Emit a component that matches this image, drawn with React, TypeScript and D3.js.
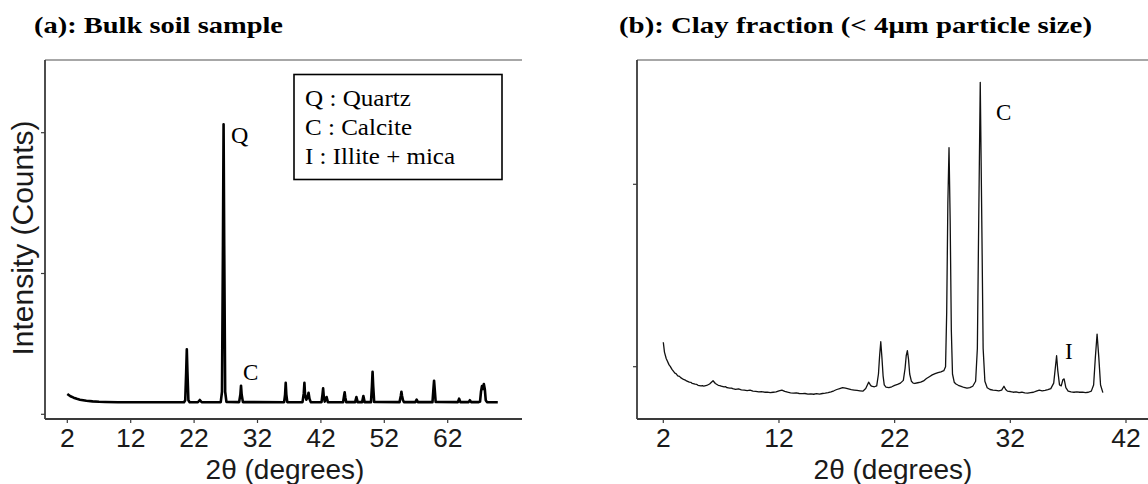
import React from "react";
import * as d3 from "d3";

// ---- Data -------------------------------------------------------------
// (a) bulk soil sample: [2θ, counts]
const bulkPattern: [number, number][] = [
  [2.0, 721], [2.5, 640], [3.0, 590], [3.5, 550], [4.0, 520], [5.0, 482],
  [6.0, 458], [7.0, 445], [8.0, 437], [10.0, 430], [12.0, 428], [14.0, 427],
  [16.0, 426], [18.0, 426], [20.4, 426], [20.6, 500], [20.75, 1500],
  [20.85, 2308], [20.95, 1500], [21.1, 500], [21.3, 428], [22.6, 428],
  [22.9, 508], [23.2, 428], [26.2, 430], [26.4, 800], [26.55, 6000],
  [26.65, 10298], [26.75, 6000], [26.9, 800], [27.1, 440], [29.1, 432],
  [29.3, 700], [29.4, 1016], [29.5, 700], [29.7, 432], [36.2, 430],
  [36.35, 700], [36.45, 1122], [36.55, 700], [36.7, 430], [39.1, 430],
  [39.3, 750], [39.4, 1122], [39.5, 700], [39.7, 520], [39.9, 600],
  [40.05, 767], [40.2, 550], [40.4, 432], [42.1, 430], [42.25, 700],
  [42.35, 923], [42.45, 650], [42.6, 450], [42.9, 614], [43.1, 432],
  [45.5, 430], [45.65, 650], [45.75, 781], [45.85, 600], [46.0, 432],
  [47.4, 432], [47.6, 614], [47.8, 432], [48.5, 432], [48.7, 650],
  [48.9, 432], [49.9, 432], [50.05, 1000], [50.15, 1513], [50.25, 1000],
  [50.4, 440], [54.4, 432], [54.6, 650], [54.7, 803], [54.8, 650],
  [54.95, 500], [55.1, 432], [56.9, 432], [57.1, 520], [57.3, 432],
  [59.6, 432], [59.75, 900], [59.85, 1193], [59.95, 900], [60.1, 440],
  [63.6, 432], [63.8, 554], [64.0, 432], [65.3, 432], [65.5, 500],
  [65.7, 432], [66.9, 432], [67.1, 450], [67.25, 800], [67.4, 1000],
  [67.55, 900], [67.7, 1076], [67.85, 900], [68.0, 500], [68.2, 432],
  [69.9, 430],
];

// (b) clay fraction (< 4 µm): [2θ, counts]
const clayPattern: [number, number][] = [
  [2.0, 1134], [2.1, 1080], [2.25, 1045], [2.5, 1010], [2.6, 1002], [2.75, 985],
  [3.0, 965], [3.1, 962], [3.25, 950], [3.4, 947], [3.5, 940], [3.75, 930],
  [3.9, 927], [4.0, 922], [4.25, 915], [4.4, 914], [4.5, 908], [4.75, 904],
  [4.9, 903], [5.0, 898], [5.25, 895], [5.4, 896], [5.5, 893], [5.75, 897],
  [6.0, 905], [6.3, 923], [6.5, 908], [6.75, 898], [6.9, 896], [7.0, 893],
  [7.25, 889], [7.4, 890], [7.5, 885], [7.75, 882], [7.9, 883], [8.0, 880],
  [8.25, 876], [8.5, 878], [8.75, 873], [9.0, 871], [9.25, 869], [9.5, 871],
  [9.75, 866], [10.0, 865], [10.25, 862], [10.5, 863], [10.75, 860],
  [11.0, 861], [11.25, 858], [11.5, 860], [11.75, 862], [12.0, 868],
  [12.25, 872], [12.5, 865], [12.75, 860], [13.0, 857], [13.25, 855],
  [13.5, 856], [13.75, 853], [14.0, 852], [14.25, 853], [14.5, 850],
  [14.75, 851], [15.0, 849], [15.25, 852], [15.5, 850], [15.75, 853],
  [16.0, 855], [16.25, 858], [16.5, 862], [16.75, 868], [17.0, 875],
  [17.25, 880], [17.5, 885], [17.75, 882], [18.0, 878], [18.25, 874],
  [18.5, 872], [18.75, 870], [19.0, 868], [19.25, 866], [19.5, 880],
  [19.75, 915], [19.9, 900], [20.0, 893], [20.25, 890], [20.45, 895],
  [20.6, 960], [20.7, 1060], [20.8, 1137], [20.9, 1050], [21.0, 950],
  [21.1, 900], [21.25, 888], [21.5, 885], [21.75, 890], [22.0, 898],
  [22.25, 903], [22.5, 910], [22.75, 925], [22.9, 990], [23.0, 1060],
  [23.1, 1088], [23.2, 1040], [23.3, 960], [23.45, 920], [23.6, 910],
  [23.75, 908], [24.0, 912], [24.25, 915], [24.5, 922], [24.75, 935],
  [25.0, 945], [25.25, 955], [25.5, 962], [25.75, 968], [26.0, 972],
  [26.25, 978], [26.4, 1000], [26.5, 1300], [26.6, 1900], [26.7, 2201],
  [26.8, 1800], [26.9, 1200], [27.0, 960], [27.15, 915], [27.3, 905],
  [27.5, 898], [27.75, 892], [28.0, 886], [28.25, 882], [28.5, 885],
  [28.75, 893], [29.0, 920], [29.15, 1100], [29.25, 1700], [29.4, 2559],
  [29.55, 1700], [29.65, 1100], [29.8, 920], [30.0, 885], [30.25, 875],
  [30.5, 872], [30.75, 870], [31.0, 868], [31.25, 872], [31.45, 893],
  [31.6, 875], [31.75, 866], [32.0, 864], [32.25, 860], [32.5, 862],
  [32.75, 858], [33.0, 860], [33.25, 856], [33.5, 855], [33.75, 858],
  [34.0, 860], [34.25, 866], [34.5, 872], [34.75, 868], [35.0, 870],
  [35.25, 874], [35.5, 880], [35.75, 910], [35.9, 1000], [36.0, 1060],
  [36.1, 980], [36.25, 900], [36.4, 895], [36.55, 930], [36.65, 933],
  [36.8, 885], [37.0, 866], [37.25, 862], [37.5, 860], [37.75, 862],
  [38.0, 860], [38.25, 861], [38.5, 858], [38.75, 860], [39.0, 866],
  [39.2, 900], [39.35, 1050], [39.5, 1179], [39.65, 1050], [39.8, 900],
  [40.0, 858],
];

const xTicksA = [2, 12, 22, 32, 42, 52, 62];
const yTicksA = [0, 5000, 10000];
const xTicksB = [2, 12, 22, 32, 42];
const yTicksB = [1000, 2000];

const legendLines = ["Q : Quartz", "C : Calcite", "I : Illite + mica"];

// ---- Layout -----------------------------------------------------------
const W = 1148;
const H = 484;
const SERIF = "'Liberation Serif', 'Times New Roman', serif";
const SANS = "'Liberation Sans', Arial, sans-serif";

const panelA = { left: 45, right: 522, top: 60, bottom: 419 };
const panelB = { left: 637, right: 1148, top: 60, bottom: 419 };

const xA = d3.scaleLinear().domain([2, 62]).range([67.3, 447.7]);
const yA = d3.scaleLinear().domain([0, 10000]).range([414.3, 132.7]);
const xB = d3.scaleLinear().domain([2, 42]).range([663.3, 1126]);
const yB = d3.scaleLinear().domain([1000, 2000]).range([366.7, 184.3]);

type Scale = d3.ScaleLinear<number, number>;

function Frame({ p, x, y, xTicks, yTicks }: {
  p: typeof panelA; x: Scale; y: Scale; xTicks: number[]; yTicks: number[];
}) {
  return (
    <g>
      <line x1={p.left} x2={p.right} y1={p.top} y2={p.top} stroke="#8a8a8a" strokeWidth={1.6} />
      <line x1={p.left} x2={p.left} y1={p.top} y2={p.bottom} stroke="#3a3a3a" strokeWidth={1.8} />
      <line x1={p.left} x2={p.right} y1={p.bottom} y2={p.bottom} stroke="#3a3a3a" strokeWidth={1.8} />
      {yTicks.map((t) => (
        <line key={"y" + t} x1={p.left - 4} x2={p.left} y1={y(t)} y2={y(t)} stroke="#3a3a3a" strokeWidth={1.2} />
      ))}
      {xTicks.map((t) => (
        <g key={"x" + t}>
          <line x1={x(t)} x2={x(t)} y1={p.bottom} y2={p.bottom + 4} stroke="#3a3a3a" strokeWidth={1.2} />
          <text x={x(t)} y={447} textAnchor="middle" fontFamily={SANS} fontSize={26.5} fill="#1a1a1a">
            {t}
          </text>
        </g>
      ))}
    </g>
  );
}

export default function App() {
  const lineA = d3.line<[number, number]>().x((d) => xA(d[0])).y((d) => yA(d[1]));
  const lineB = d3.line<[number, number]>().x((d) => xB(d[0])).y((d) => yB(d[1]));

  return (
    <div style={{ position: "absolute", left: 0, top: 0 }}>
      <svg width={W} height={H} viewBox={`0 0 ${W} ${H}`} style={{ display: "block", background: "#fff" }}>
        <rect width={W} height={H} fill="#fff" />

        {/* Panel titles */}
        <text x={34} y={33} fontFamily={SERIF} fontWeight="bold" fontSize={23.5} textLength={249} lengthAdjust="spacingAndGlyphs" fill="#000">
          (a): Bulk soil sample
        </text>
        <text x={619} y={33} fontFamily={SERIF} fontWeight="bold" fontSize={23.5} textLength={473} lengthAdjust="spacingAndGlyphs" fill="#000">
          (b): Clay fraction (&lt; 4μm particle size)
        </text>

        {/* Panel (a) */}
        <Frame p={panelA} x={xA} y={yA} xTicks={xTicksA} yTicks={yTicksA} />
        <path d={lineA(bulkPattern) ?? ""} fill="none" stroke="#000" strokeWidth={2.6} strokeLinejoin="round" />
        <text x={231} y={143} fontFamily={SERIF} fontSize={24} fill="#000">Q</text>
        <text x={243} y={380} fontFamily={SERIF} fontSize={23} fill="#000">C</text>

        <rect x={294} y={74.5} width={208} height={105} fill="#fff" stroke="#000" strokeWidth={1.6} />
        {legendLines.map((s, i) => (
          <text key={s} x={305} y={106 + i * 29.2} fontFamily={SERIF} fontSize={23} fill="#000"
            textLength={[106, 107, 150][i]} lengthAdjust="spacingAndGlyphs">
            {s}
          </text>
        ))}

        <text transform="translate(33,238) rotate(-90)" textAnchor="middle" fontFamily={SANS} fontSize={30} fill="#1a1a1a">
          Intensity (Counts)
        </text>
        <text x={285} y={478.5} textAnchor="middle" fontFamily={SANS} fontSize={28} fill="#1a1a1a">
          2θ (degrees)
        </text>

        {/* Panel (b) */}
        <Frame p={panelB} x={xB} y={yB} xTicks={xTicksB} yTicks={yTicksB} />
        <path d={lineB(clayPattern) ?? ""} fill="none" stroke="#111" strokeWidth={1.3} strokeLinejoin="round" />
        <text x={996} y={120} fontFamily={SERIF} fontSize={23} fill="#000">C</text>
        <text x={1065} y={359} fontFamily={SERIF} fontSize={23} fill="#000">I</text>
        <text x={893} y={478.5} textAnchor="middle" fontFamily={SANS} fontSize={28} fill="#1a1a1a">
          2θ (degrees)
        </text>
      </svg>
    </div>
  );
}
